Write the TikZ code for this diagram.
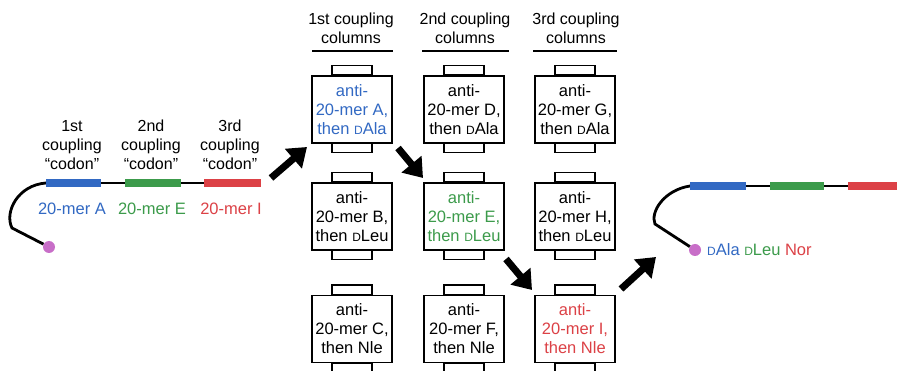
\documentclass[tikz,border=0pt]{standalone}
\usepackage{fontspec}
\setmainfont{Liberation Sans}
\usetikzlibrary{arrows.meta}
\definecolor{cblue}{RGB}{50,105,195}
\definecolor{cgreen}{RGB}{60,155,75}
\definecolor{cred}{RGB}{220,65,70}
\definecolor{cpurple}{RGB}{200,110,200}
\newcommand{\smD}{{\fontsize{12pt}{12pt}\selectfont D}}
\tikzset{
  colbox/.style={draw, line width=1.6pt, minimum width=80pt, minimum height=67pt,
    inner sep=0pt, align=center, font=\fontsize{16.5pt}{19pt}\selectfont},
  tab/.style={draw, line width=1.4pt},
  hdr/.style={align=center, font=\fontsize{16pt}{19pt}\selectfont, inner sep=0pt},
  hline/.style={line width=2.8pt},
  bigarrow/.style={line width=7pt, -{Triangle[length=18pt,width=25pt]}},
  strand/.style={line width=2.8pt},
  bar/.style={line width=8.5pt},
  lbl/.style={font=\fontsize{16.5pt}{19pt}\selectfont, inner sep=0pt},
}
\begin{document}
\begin{tikzpicture}[x=1pt,y=-1pt]
\clip (0,0) rectangle (897,371);
\fill[white] (0,0) rectangle (897,371);

% column headers
\node[hdr] (h1) at (351,28) {1st coupling\\columns};
\node[hdr] (h2) at (465,28) {2nd coupling\\columns};
\node[hdr] (h3) at (576,28) {3rd coupling\\columns};
\draw[hline] (312,51) -- (393,51);
\draw[hline] (422,51) -- (509,51);
\draw[hline] (533,51) -- (617,51);

% boxes
\node[colbox, text=cblue] (b11) at (352,109.5) {anti-\\20-mer A,\\then \smD Ala};
\node[colbox] (b21) at (464,109.5) {anti-\\20-mer D,\\then \smD Ala};
\node[colbox] (b31) at (575,109.5) {anti-\\20-mer G,\\then \smD Ala};
\node[colbox] (b12) at (352,216.5) {anti-\\20-mer B,\\then \smD Leu};
\node[colbox, text=cgreen] (b22) at (464,216.5) {anti-\\20-mer E,\\then \smD Leu};
\node[colbox] (b32) at (575,216.5) {anti-\\20-mer H,\\then \smD Leu};
\node[colbox] (b13) at (352,329) {anti-\\20-mer C,\\then Nle};
\node[colbox] (b23) at (464,329) {anti-\\20-mer F,\\then Nle};
\node[colbox, text=cred] (b33) at (575,329) {anti-\\20-mer I,\\then Nle};

% tabs
\foreach \b in {b11,b21,b31,b12,b22,b32,b13,b23,b33}{
  \draw[tab] ([xshift=-20pt]\b.north) rectangle ([xshift=20pt,yshift=9.5pt]\b.north);
  \draw[tab] ([xshift=-20pt]\b.south) rectangle ([xshift=20pt,yshift=-9pt]\b.south);
}

% left strand
\coordinate (ls) at (46,183);
\coordinate (le) at (261,183);
\node[circle, fill=cpurple, minimum size=12pt, inner sep=0pt] (ldot) at (49,247) {};
\draw[strand] (ls) -- (le);
\draw[strand] (ls) .. controls (18,185) and (4,212) .. (12,228) -- (ldot);
\draw[bar, cblue] (46,183) -- (101,183);
\draw[bar, cgreen] (125,183) -- (181,183);
\draw[bar, cred] (204,183) -- (261,183);
\node[hdr] (c1) at (72,145) {1st\\coupling\\\char"201Ccodon\char"201D};
\node[hdr] (c2) at (151,145) {2nd\\coupling\\\char"201Ccodon\char"201D};
\node[hdr] (c3) at (230,145) {3rd\\coupling\\\char"201Ccodon\char"201D};
\node[lbl, text=cblue] (l1) at (72,209) {20-mer A};
\node[lbl, text=cgreen] (l2) at (152,209) {20-mer E};
\node[lbl, text=cred] (l3) at (231,209) {20-mer I};

% right strand
\coordinate (rs) at (690,186);
\coordinate (re) at (900,186);
\node[circle, fill=cpurple, minimum size=12pt, inner sep=0pt] (rdot) at (695,250) {};
\draw[strand] (rs) -- (re);
\draw[strand] (rs) .. controls (664,190) and (650,212) .. (655,224) -- (rdot);
\draw[bar, cblue] (690,186) -- (746,186);
\draw[bar, cgreen] (770,186) -- (824,186);
\draw[bar, cred] (848,186) -- (900,186);
\node[lbl, anchor=west] (rt) at (707,250) {\textcolor{cblue}{\smD Ala} \textcolor{cgreen}{\smD Leu} \textcolor{cred}{Nor}};

% arrows
\coordinate (a1s) at (271,178);
\coordinate (a1e) at (307,147);
\coordinate (a2s) at (398,148);
\coordinate (a2e) at (423,178);
\coordinate (a3s) at (506,259);
\coordinate (a3e) at (532,290);
\coordinate (a4s) at (621,289);
\coordinate (a4e) at (656,257);
\draw[bigarrow] (a1s) -- (a1e);
\draw[bigarrow] (a2s) -- (a2e);
\draw[bigarrow] (a3s) -- (a3e);
\draw[bigarrow] (a4s) -- (a4e);
\end{tikzpicture}
\end{document}
